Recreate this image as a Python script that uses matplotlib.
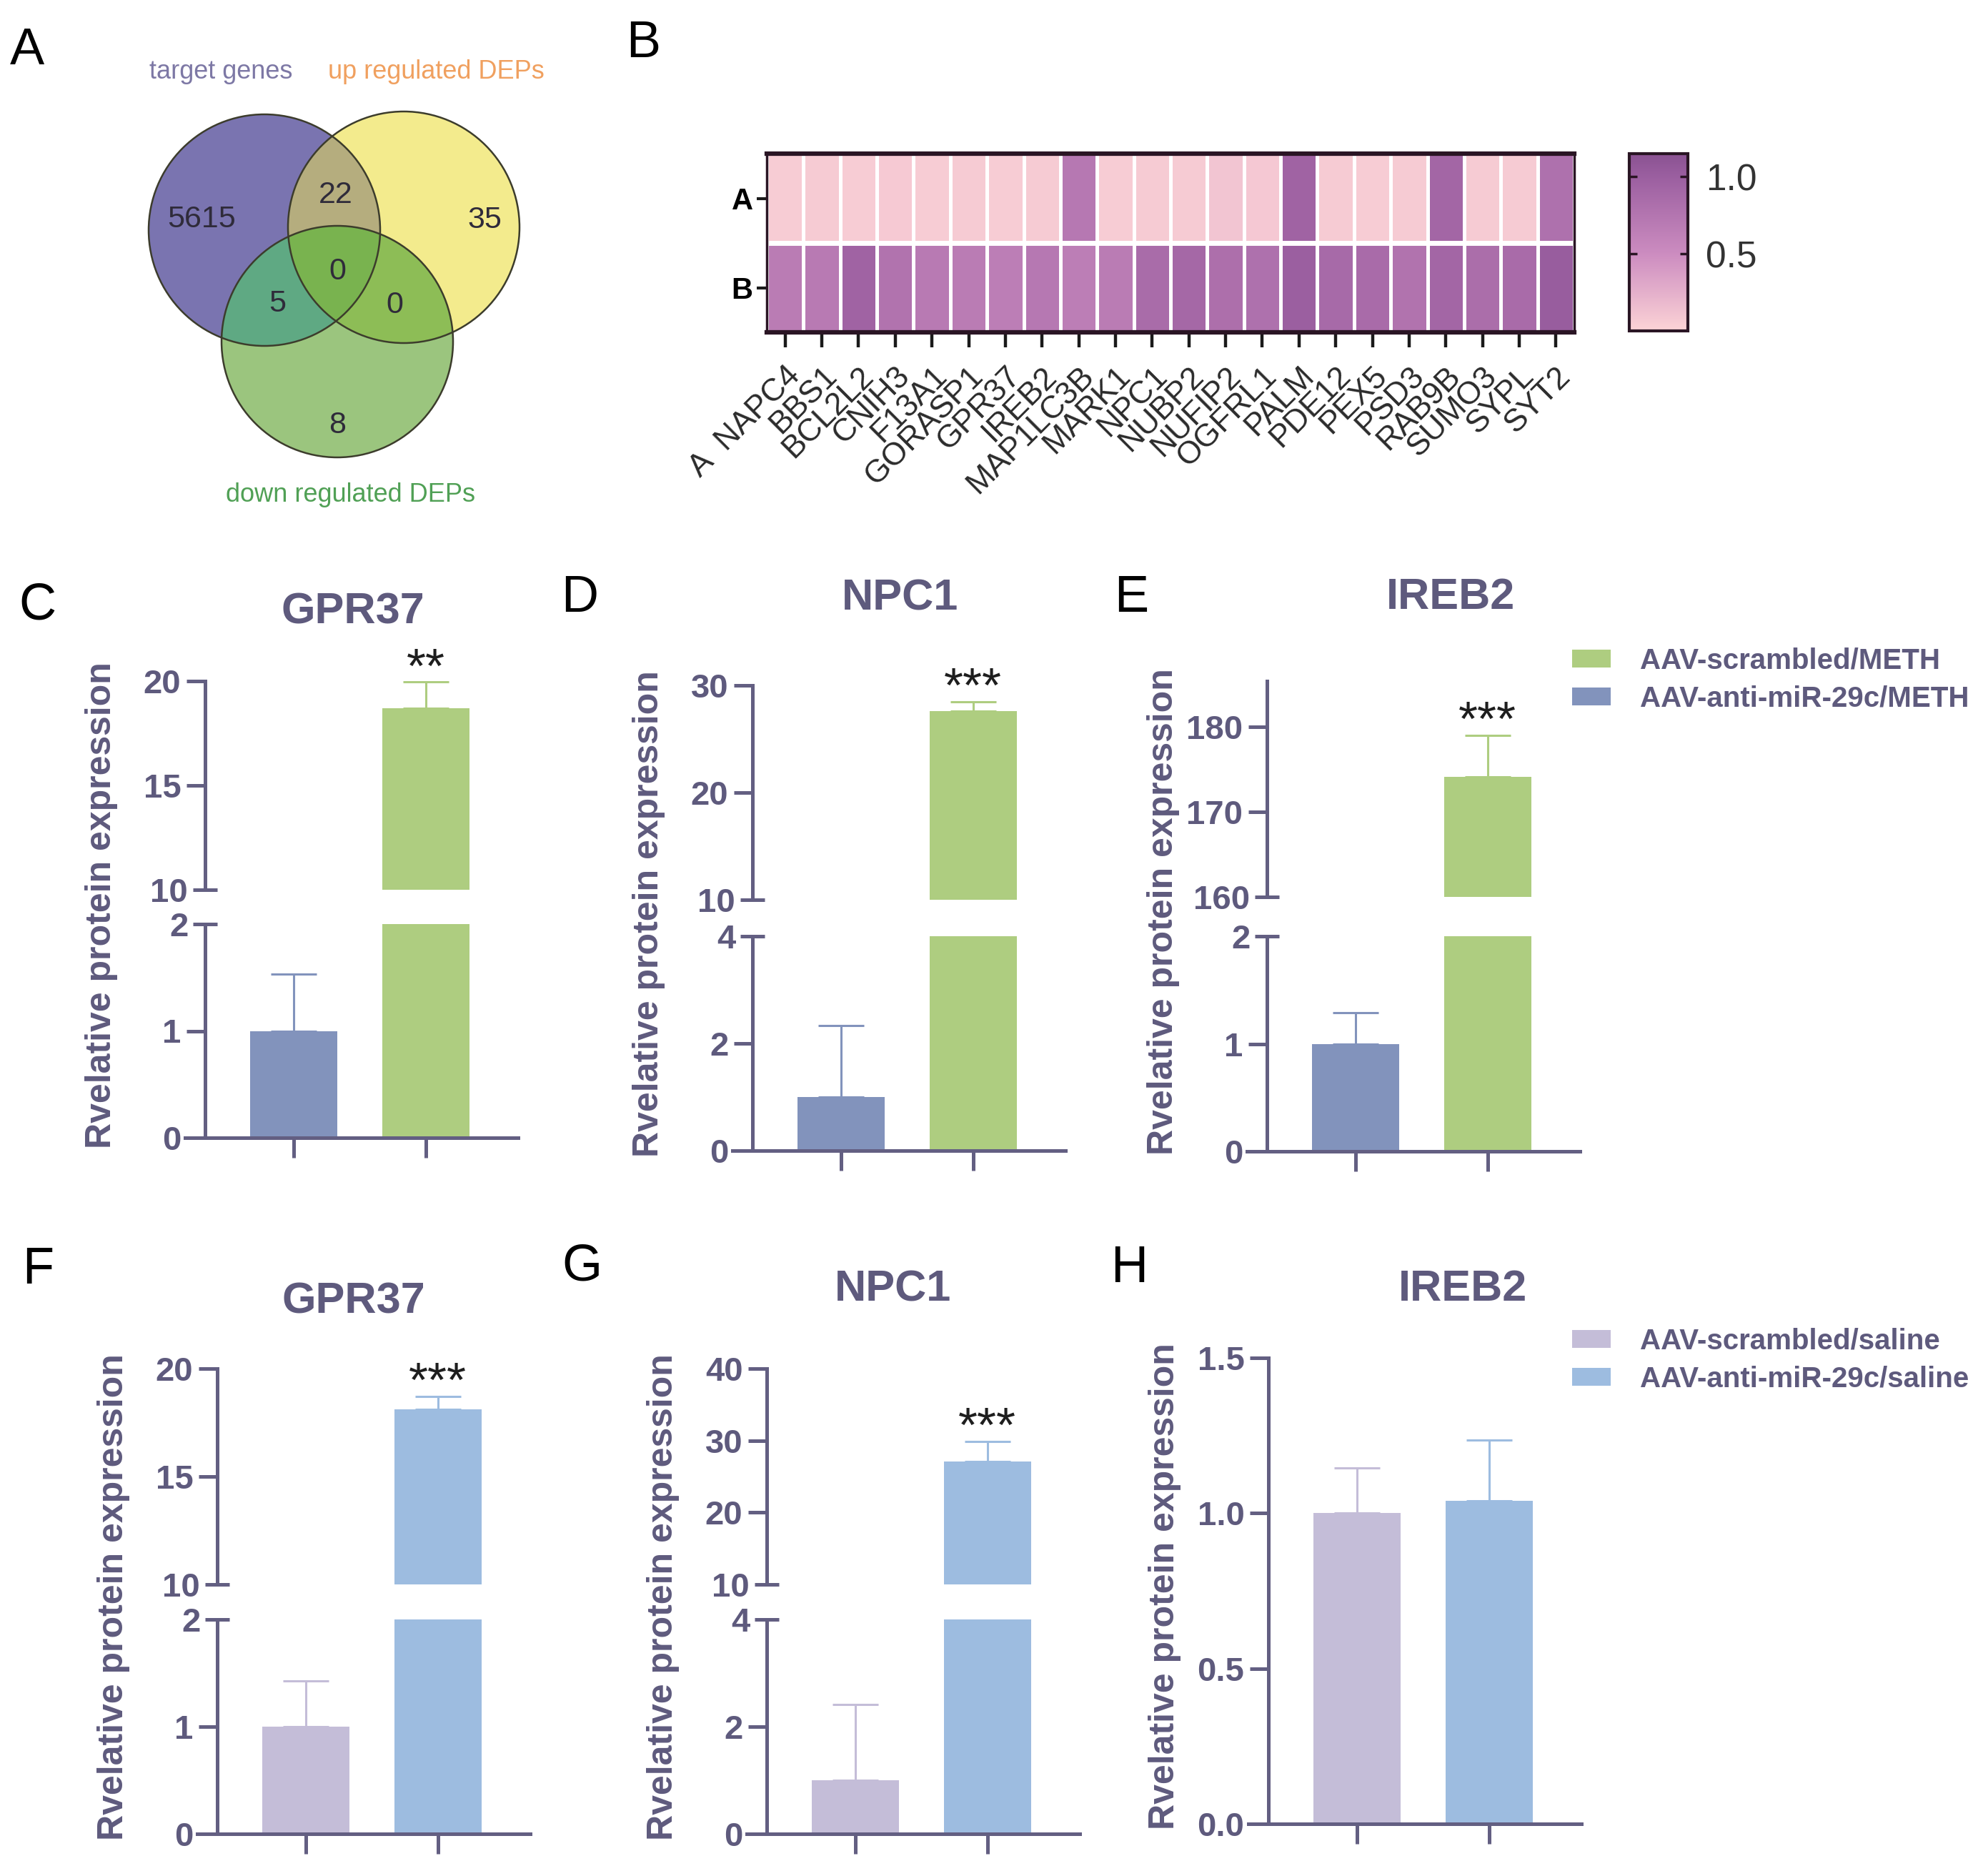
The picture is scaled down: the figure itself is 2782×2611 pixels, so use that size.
# multi-panel figure: venn, heatmap and protein expression bars
import numpy as np
import matplotlib
matplotlib.use("Agg")
import matplotlib.pyplot as plt
from matplotlib.colors import LinearSegmentedColormap, to_rgba
from matplotlib.patches import Circle

plt.rcParams['font.family'] = ['Liberation Sans', 'DejaVu Sans']

W, H = 2782, 2611

# ---------------- data ----------------
venn_labels = ['target genes', 'up regulated DEPs', 'down regulated DEPs']
# key = (target, up, down)
venn_counts = {(1, 0, 0): 5615, (1, 1, 0): 22, (0, 1, 0): 35, (1, 1, 1): 0,
               (1, 0, 1): 5, (0, 1, 1): 0, (0, 0, 1): 8}

heat_rows = ['A', 'B']
heat_genes = ['A  NAPC4', 'BBS1', 'BCL2L2', 'CNIH3', 'F13A1', 'GORASP1', 'GPR37',
              'IREB2', 'MAP1LC3B', 'MARK1', 'NPC1', 'NUBP2', 'NUFIP2', 'OGFRL1',
              'PALM', 'PDE12', 'PEX5', 'PSD3', 'RAB9B', 'SUMO3', 'SYPL', 'SYT2']
heat_A = [0.05, 0.06, 0.05, 0.07, 0.05, 0.06, 0.05, 0.06, 0.72, 0.05, 0.06,
          0.06, 0.10, 0.08, 0.95, 0.06, 0.05, 0.06, 0.92, 0.06, 0.06, 0.80]
heat_B = [0.68, 0.70, 0.95, 0.78, 0.70, 0.68, 0.66, 0.72, 0.66, 0.68, 0.85,
          0.90, 0.82, 0.80, 1.00, 0.88, 0.86, 0.78, 0.92, 0.84, 0.86, 1.02]

meth_groups = ['AAV-anti-miR-29c/METH', 'AAV-scrambled/METH']
saline_groups = ['AAV-scrambled/saline', 'AAV-anti-miR-29c/saline']

gpr37_meth = [1.0, 18.7]
gpr37_meth_sd = [0.53, 1.25]
npc1_meth = [1.0, 27.6]
npc1_meth_sd = [1.33, 0.9]
ireb2_meth = [1.0, 174.1]
ireb2_meth_sd = [0.29, 4.9]

gpr37_sal = [1.0, 18.1]
gpr37_sal_sd = [0.43, 0.6]
npc1_sal = [1.0, 27.1]
npc1_sal_sd = [1.41, 2.8]
ireb2_sal = [1.0, 1.04]
ireb2_sal_sd = [0.145, 0.195]

meth_colors = ['#8293bc', '#aecd80']
sal_colors = ['#c4bdd8', '#9dbce0']

AX_C = '#635f82'
TXT_C = '#5e5a7d'
XL = (-0.82, 1.70)
SPX = -0.67
BW = 0.66
PANEL_W = 466


def px_box(x0, y0, x1, y1):
    return [x0 / W, 1 - y1 / H, (x1 - x0) / W, (y1 - y0) / H]


def fx(x):
    return x / W


def fy(y):
    return 1 - y / H


fig = plt.figure(figsize=(W / 100, H / 100), dpi=100)

# ---------------- A: venn ----------------
fig.text(fx(38), fy(71), 'A', fontsize=52, ha='center', va='center')
ax_v = fig.add_axes(px_box(0, 0, 800, 760))
centers = [(370, 322), (565, 318), (472, 478)]
rad = 162
region_colors = {(1, 0, 0): '#7a74b0', (0, 1, 0): '#f3eb8d', (0, 0, 1): '#9bc57e',
                 (1, 1, 0): '#b5ad7e', (1, 0, 1): '#5fa983', (0, 1, 1): '#8dbd56',
                 (1, 1, 1): '#79b34f'}
xs = np.arange(190, 750) + 0.5
ys = np.arange(140, 660) + 0.5
X, Y = np.meshgrid(xs, ys)
inside = [((X - cx) ** 2 + (Y - cy) ** 2 <= rad ** 2).astype(int) for cx, cy in centers]
img = np.zeros((len(ys), len(xs), 4))
for key, col in region_colors.items():
    mask = (inside[0] == key[0]) & (inside[1] == key[1]) & (inside[2] == key[2])
    img[mask] = to_rgba(col)
ax_v.imshow(img, extent=(190, 750, 660, 140), origin='upper', aspect='auto',
            interpolation='bilinear', zorder=1)
for cx, cy in centers:
    ax_v.add_patch(Circle((cx, cy), rad, fill=False, ec='#3c3c2c', lw=1.8, zorder=2))
num_pos = {(1, 0, 0): (282, 307), (1, 1, 0): (470, 273), (0, 1, 0): (678, 308),
           (1, 1, 1): (472, 380), (1, 0, 1): (388, 425), (0, 1, 1): (552, 427),
           (0, 0, 1): (472, 595)}
for key, n in venn_counts.items():
    ax_v.text(num_pos[key][0], num_pos[key][1], str(n), fontsize=31, color='#2f2b3a',
              ha='center', va='center', zorder=3)
ax_v.text(309, 100, venn_labels[0], fontsize=26, color='#7d78a5', ha='center', va='center')
ax_v.text(610, 100, venn_labels[1], fontsize=26, color='#f0a05f', ha='center', va='center')
ax_v.text(490, 692, venn_labels[2], fontsize=26, color='#50a055', ha='center', va='center')
ax_v.set_xlim(0, 800)
ax_v.set_ylim(760, 0)
ax_v.axis('off')

# ---------------- B: heatmap ----------------
fig.text(fx(900), fy(62), 'B', fontsize=52, ha='center', va='center')
cmap = LinearSegmentedColormap.from_list(
    'pinkpurple', [(0.0, '#fcd3d6'), (0.5 / 1.15, '#cc8cc0'), (1.0 / 1.15, '#9b5fa0'),
                   (1.0, '#8a5292')])
vals = np.array([heat_A, heat_B])
ax_h = fig.add_axes(px_box(1073, 215, 2203, 465))
mesh = ax_h.pcolormesh(vals, cmap=cmap, vmin=0, vmax=1.15, edgecolors='white', linewidth=2.2)
ax_h.axhline(1, color='white', lw=5)
ax_h.set_xlim(0, len(heat_genes))
ax_h.set_ylim(2, 0)
ax_h.set_xticks(np.arange(len(heat_genes)) + 0.5, heat_genes, rotation=45, ha='right',
                va='top', rotation_mode='anchor', fontsize=32, color='#2b2b2b')
ax_h.set_yticks([0.5, 1.5], heat_rows, fontsize=30, fontweight='bold')
ax_h.tick_params(axis='x', length=15, width=3.2, pad=14, color='#1a1a1a')
ax_h.tick_params(axis='y', length=10, width=3, pad=4, color='#1a1a1a')
for s in ['top', 'bottom']:
    ax_h.spines[s].set_linewidth(4.5)
    ax_h.spines[s].set_color('#2a1524')
for s in ['left', 'right']:
    ax_h.spines[s].set_linewidth(2.5)
    ax_h.spines[s].set_color('#2a1524')

cax = fig.add_axes(px_box(2280, 215, 2362, 463))
cb = fig.colorbar(mesh, cax=cax)
cb.set_ticks([0.5, 1.0], labels=['0.5', '1.0'])
cb.outline.set_linewidth(3)
cb.outline.set_edgecolor('#2a1524')
cax.tick_params(direction='in', left=True, right=True, length=8, width=2.5,
                labelsize=37, pad=18, color='#2a1524', labelcolor='#333333')


# ---------------- C-H: bar panels ----------------
def setup_y(ax, ylim, major, minor, fmt):
    ax.set_xlim(XL)
    ax.set_ylim(ylim)
    for s in ['top', 'right', 'bottom']:
        ax.spines[s].set_visible(False)
    ax.spines['left'].set_position(('data', SPX))
    ax.spines['left'].set_linewidth(3.6)
    ax.spines['left'].set_color(AX_C)
    ax.set_yticks(major, [fmt % v for v in major], fontweight='bold')
    ax.set_yticks(minor, [fmt % v for v in minor], minor=True, fontweight='bold')
    ax.tick_params(axis='y', which='major', direction='out', length=19, width=3.6,
                   color=AX_C, labelcolor=TXT_C, labelsize=34, pad=5)
    ax.tick_params(axis='y', which='minor', direction='inout', length=24, width=3.6,
                   color=AX_C, labelcolor=TXT_C, labelsize=34, pad=5)
    ax.set_xticks([])
    ax.patch.set_visible(False)


def draw_bars(ax, means, sds, colors):
    bars = ax.bar([0, 1], means, width=BW, color=colors, zorder=2)
    for i in range(2):
        ax.errorbar(i, means[i], yerr=[[0], [sds[i]]], fmt='none', ecolor=colors[i],
                    elinewidth=2.2, capsize=23, capthick=2.2, zorder=1)
    return bars


def bar_panel(x0, upper, lower, means, sds, colors, stars, title, title_xy,
              letter, letter_xy, fmt='%g'):
    x1 = x0 + PANEL_W
    top = lower[0]
    if upper is not None:
        yt, yb, ylim, major, minor = upper
        top = yt
        au = fig.add_axes(px_box(x0, yt, x1, yb))
        setup_y(au, ylim, major, minor, fmt)
        draw_bars(au, means, sds, colors)
        au.annotate(stars, xy=(1, means[1] + sds[1]), xytext=(0, 0),
                    textcoords='offset points', ha='center', va='baseline',
                    fontsize=50, color='#1e1e1e', annotation_clip=False)
    yt, yb, ylim, major, minor = lower
    al = fig.add_axes(px_box(x0, yt, x1, yb))
    setup_y(al, ylim, major, minor, fmt)
    al.spines['bottom'].set_visible(True)
    al.spines['bottom'].set_linewidth(3.6)
    al.spines['bottom'].set_color(AX_C)
    al.set_xticks([0, 1])
    al.tick_params(axis='x', direction='out', length=20, width=3.6, color=AX_C,
                   labelbottom=False)
    bars = draw_bars(al, means, sds, colors)

    spine_px = x0 + (SPX - XL[0]) / (XL[1] - XL[0]) * PANEL_W
    fig.text(fx(spine_px - 145), fy((top + yb) / 2 - 6), 'Rvelative protein expression',
             rotation=90, ha='center', va='center', fontsize=36, fontweight='bold',
             color=TXT_C)
    fig.text(fx(title_xy[0]), fy(title_xy[1]), title, ha='center', va='center',
             fontsize=44, fontweight='bold', color=TXT_C)
    fig.text(fx(letter_xy[0]), fy(letter_xy[1]), letter, fontsize=52, ha='center',
             va='center')
    return bars


bar_panel(259, (953, 1245, (10, 20), [15, 20], [10]), (1293, 1592, (0, 2), [0, 1], [2]),
          gpr37_meth, gpr37_meth_sd, meth_colors, '**', 'GPR37', (494, 857), 'C', (52, 848))
bar_panel(1025, (959, 1259, (10, 30), [20, 30], [10]), (1310, 1610, (0, 4), [0, 2], [4]),
          npc1_meth, npc1_meth_sd, meth_colors, '***', 'NPC1', (1260, 838), 'D', (811, 838))
bm = bar_panel(1745, (953, 1255, (160, 185.4), [170, 180], [160]),
               (1310, 1611, (0, 2), [0, 1], [2]),
               ireb2_meth, ireb2_meth_sd, meth_colors, '***', 'IREB2', (2030, 836),
               'E', (1583, 838))

bar_panel(276, (1915, 2217, (10, 20), [15, 20], [10]), (2266, 2566, (0, 2), [0, 1], [2]),
          gpr37_sal, gpr37_sal_sd, sal_colors, '***', 'GPR37', (495, 1822), 'F', (53, 1777))
bar_panel(1045, (1915, 2217, (10, 40), [20, 30, 40], [10]), (2266, 2566, (0, 4), [0, 2], [4]),
          npc1_sal, npc1_sal_sd, sal_colors, '***', 'NPC1', (1250, 1805), 'G', (814, 1773))
bs = bar_panel(1747, None, (1900, 2552, (0, 1.5), [0, 0.5, 1.0, 1.5], []),
               ireb2_sal, ireb2_sal_sd, sal_colors, '', 'IREB2', (2047, 1805), 'H',
               (1580, 1776), fmt='%.1f')

# legends
fig.legend([bm[1], bm[0]], [meth_groups[1], meth_groups[0]], loc='upper left',
           bbox_to_anchor=(fx(2200), fy(906)), frameon=False,
           prop={'size': 29, 'weight': 'bold'}, labelcolor=TXT_C, handlelength=1.35,
           handleheight=0.58, handletextpad=1.0, labelspacing=0.36, borderpad=0,
           borderaxespad=0)
fig.legend([bs[0], bs[1]], saline_groups, loc='upper left',
           bbox_to_anchor=(fx(2200), fy(1858)), frameon=False,
           prop={'size': 29, 'weight': 'bold'}, labelcolor=TXT_C, handlelength=1.35,
           handleheight=0.58, handletextpad=1.0, labelspacing=0.36, borderpad=0,
           borderaxespad=0)

fig.savefig('out.png', dpi=100, facecolor='white')
